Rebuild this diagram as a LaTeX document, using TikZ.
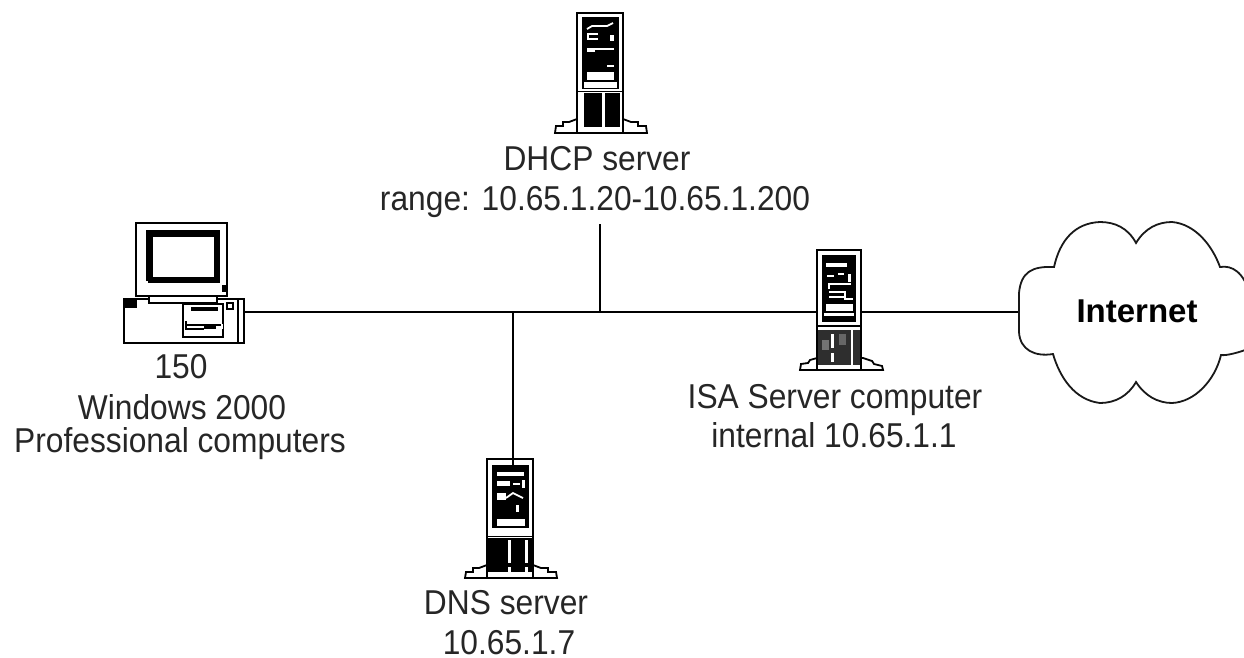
\documentclass[tikz,border=0pt]{standalone}
\usepackage{fontspec}
\setmainfont[FakeStretch=0.92]{Liberation Sans}
\newfontfamily\inetfont{Liberation Sans}
\begin{document}
\begin{tikzpicture}[x=1pt,y=-1pt,line join=miter,
  ln/.style={line width=2pt,draw=black},
  frame ln/.style={line width=2.3pt,draw=black},
  thin ln/.style={line width=1.8pt,draw=black},
  lbl/.style={font=\fontsize{34.5}{40}\selectfont,text=black!85,inner sep=0pt,anchor=base},
  anchorbox/.style={inner sep=0pt,outer sep=0pt,draw=none,anchor=north west},
  server/.pic={
    \draw[thin ln,fill=white] (0,106) -- (-8,109) -- (-14,109) -- (-14,113) -- (-21,113) -- (-22,120) -- (70,120) -- (69,113) -- (61,113) -- (61,109) -- (54,109) -- (46,106) -- cycle;
    \draw[frame ln,fill=white] (0,0) rectangle (46,120);
    \fill[black] (5,4) rectangle (42,76);
    \draw[line width=1.6pt,white] (6.5,77) -- (40.5,77);
    \fill[white] (7,69) rectangle (40,75);
    \fill[white] (10,59) rectangle (37,67);
    \fill[white] (30,52) rectangle (37,54);
    \draw[line width=1.8pt,white] (10,16) -- (15,13) -- (30,13) -- (36,10);
    \draw[line width=1.8pt,white] (21,26) -- (11,26) -- (11,21) -- (21,21);
    \fill[white] (33,22) rectangle (37,28);
    \draw[line width=1.8pt,white] (18,38) -- (11,38) -- (11,36) -- (37,36);
    \fill[black] (7,80) rectangle (25,114);
    \fill[black] (28,80) rectangle (43,114);
    \draw[thin ln] (0,78.5) -- (46,78.5);
  },
  dnsserver/.pic={
    \draw[thin ln,fill=white] (0,106) -- (-8,109) -- (-14,109) -- (-14,113) -- (-21,113) -- (-22,119) -- (70,119) -- (69,113) -- (61,113) -- (61,109) -- (54,109) -- (46,106) -- cycle;
    \draw[frame ln,fill=white] (0,0) rectangle (46,119);
    \fill[black] (5,6) rectangle (42,69);
    \fill[white] (7,70) rectangle (39,74);
    \fill[white] (10,60) rectangle (38,67);
    \fill[white] (29,46) rectangle (32,53);
    \fill[white] (10,13) rectangle (37,17);
    \fill[white] (10,22) rectangle (23,27);
    \fill[white] (26,24) rectangle (33,26);
    \fill[white] (35,21) rectangle (38,29);
    \fill[white] (10,34) rectangle (19,41);
    \draw[line width=1.8pt,white] (19,39) -- (26,34) -- (36,39);
    \draw[thin ln] (0,77.5) -- (46,77.5);
    \fill[black] (1,79) rectangle (45,113);
    \fill[white] (21,81) rectangle (24,104);
    \fill[white] (21,108) rectangle (24,113);
    \fill[white] (38,81) rectangle (41,104);
    \fill[white] (38,108) rectangle (41,113);
  },
  isaserver/.pic={
    \draw[thin ln,fill=white] (0,108) -- (-7,110) -- (-9,113) -- (-16,114) -- (-17,120) -- (66,120) -- (65,116) -- (57,114) -- (55,111) -- (46,108) -- cycle;
    \draw[frame ln,fill=white] (0,0) rectangle (44,120);
    \fill[black] (5,5) rectangle (39,72);
    \fill[white] (7,63) rectangle (37,66);
    \fill[white] (9,54) rectangle (36,61);
    \fill[white] (27,48) rectangle (36,50);
    \fill[white] (9,13) rectangle (30,17);
    \draw[line width=1.4pt,white] (10,26) -- (17,26) (21,24) -- (27,24);
    \fill[white] (31,24) rectangle (34,32);
    \draw[line width=1.8pt,white] (12,39) -- (12,34) -- (34,34);
    \draw[line width=1.8pt,white] (12,47) -- (28,47) -- (28,42) -- (12,42);
    \draw[thin ln] (0,76) -- (44,76);
    \fill[black!82] (1,80) rectangle (43,115);
    \fill[white] (34,80) rectangle (36,115);
    \fill[white] (14,84) rectangle (17,98);
    \fill[white] (14,103) rectangle (17,112);
    \fill[black!55] (5,90) rectangle (12,100);
    \fill[black!60] (22,84) rectangle (29,95);
  },
  desktop/.pic={
    \draw[ln,fill=white] (0,0) rectangle (120,44);
    \fill[black] (0,0) rectangle (13,9);
    \draw[thin ln] (59,5) rectangle (99,38);
    \fill[black] (67,8) rectangle (94,12);
    \draw[line width=1.2pt] (61,26) -- (99,26) (61,30) -- (80,30);
    \fill[black] (80,25) rectangle (92,30);
    \draw[thin ln] (62,22) -- (62,31);
    \fill[white] (97,25) rectangle (99,30);
    \draw[line width=2pt] (103,4) rectangle (109,10);
    \draw[line width=1.5pt] (114,1) -- (114,44);
    \draw[ln,fill=white] (25,-3) rectangle (93,4);
    \draw[ln,fill=white] (12,-76) rectangle (103,-3);
    \fill[black] (22,-69) rectangle (96,-16);
    \fill[white] (29,-62) rectangle (90,-22);
    \fill[white] (22,-18) rectangle (24,-16);
    \fill[black] (98,-14) rectangle (103,-7);
  }]
\useasboundingbox (0,0) rectangle (1244,657);
\fill[white] (0,0) rectangle (1244,657);

% equipment anchors
\node[anchorbox,minimum width=46pt,minimum height=120pt] (dhcp) at (577,13) {};
\node[anchorbox,minimum width=46pt,minimum height=119pt] (dns) at (487,459) {};
\node[anchorbox,minimum width=44pt,minimum height=120pt] (isa) at (817,250) {};
\node[anchorbox,minimum width=120pt,minimum height=44pt] (pc) at (124,299) {};
\node[anchorbox,minimum width=226pt,minimum height=181pt] (cloud) at (1019,222) {};

% labels
\node[lbl] (dhcpname) at (597,170) {DHCP server};
\node[lbl] (dhcprange) at (595,210) {range: 10.65.1.20-10.65.1.200};
\node[lbl] (pcnum) at (181,378) {150};
\node[lbl] (pcos) at (182,419) {Windows 2000};
\node[lbl] (pcname) at (180,452) {Professional computers};
\node[lbl] (isaname) at (835,408) {ISA Server computer};
\node[lbl] (isaip) at (834,447) {internal 10.65.1.1};
\node[lbl] (dnsname) at (506,614) {DNS server};
\node[lbl] (dnsip) at (509,654) {10.65.1.7};
\node[lbl,font=\inetfont\fontsize{33}{40}\selectfont\bfseries,text=black] (inet) at (1137,322) {Internet};

% junctions on the bus
\coordinate (jdns) at (513,312);
\coordinate (jdhcp) at (600,312);
\coordinate (dhcptop) at (600,224);

% connectors
\draw[ln] (pc.east |- jdns) -- (jdns) -- (jdhcp) -- (isa.west |- jdns);
\draw[ln] (isa.east |- jdns) -- (cloud.west |- jdns);
\draw[ln] (jdhcp) -- (dhcptop);
\draw[ln] (jdns) -- (jdns |- dns.north);

% drawings
\pic at (577,13) {server};
\pic at (487,459) {dnsserver};
\pic at (817,250) {isaserver};
\pic at (124,299) {desktop};
\draw[ln] (513,459) -- (513,465);

% cloud
\draw[line width=1.8pt,black!90]
  (1019,293)
  .. controls (1021,272) and (1032,266) .. (1054,267)
  .. controls (1060,240) and (1075,223) .. (1100,222)
  .. controls (1115,222) and (1128,228) .. (1136,243)
  .. controls (1145,228) and (1158,222) .. (1172,222)
  .. controls (1195,224) and (1212,245) .. (1220,267)
  .. controls (1232,265) and (1244,272) .. (1250,295)
  .. controls (1254,330) and (1252,350) .. (1245,350)
  .. controls (1240,352) and (1226,356) .. (1221,355)
  .. controls (1215,380) and (1195,402) .. (1172,403)
  .. controls (1158,403) and (1145,396) .. (1136,382)
  .. controls (1128,396) and (1115,403) .. (1100,403)
  .. controls (1075,400) and (1060,378) .. (1053,354)
  .. controls (1035,357) and (1020,350) .. (1019,332)
  -- cycle;
\end{tikzpicture}
\end{document}
